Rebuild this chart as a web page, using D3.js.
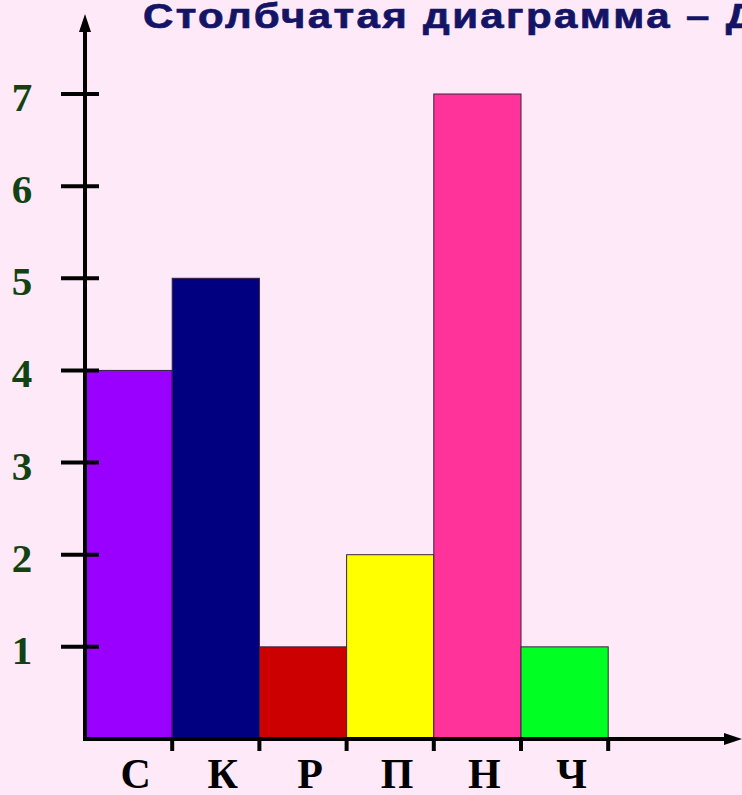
<!DOCTYPE html>
<html>
<head>
<meta charset="utf-8">
<script src="https://cdn.jsdelivr.net/npm/d3@7"></script>
<style>
  html, body { margin: 0; padding: 0; background: #fde9f8; overflow: hidden; }
  svg { display: block; }
</style>
</head>
<body>
<svg id="chart" width="742" height="795"></svg>
<script>
// Letters along the horizontal axis and the height of each bar
const categories = ["С", "К", "Р", "П", "Н", "Ч"];
const values = [4, 5, 1, 2, 7, 1];
const barColors = ["#9900ff", "#000080", "#cc0000", "#ffff00", "#ff3399", "#00ff22"];
const yTicks = [1, 2, 3, 4, 5, 6, 7];
const titleText = "Столбчатая диаграмма – Диаграмма";

const svg = d3.select("#chart");
const W = 742, H = 795;
const x0 = 85, y0 = 739;

svg.append("rect").attr("width", W).attr("height", H).attr("fill", "#fde9f8");

const x = d3.scaleBand().domain(categories).range([x0, x0 + 87.2 * categories.length]).padding(0);
const y = d3.scaleLinear().domain([0, 7]).range([y0, 94]);

// bars
svg.append("g").selectAll("rect")
  .data(categories)
  .join("rect")
  .attr("x", d => x(d))
  .attr("y", (d, i) => y(values[i]))
  .attr("width", x.bandwidth())
  .attr("height", (d, i) => y0 - y(values[i]))
  .attr("fill", (d, i) => barColors[i])
  .attr("stroke", "#3a2040")
  .attr("stroke-width", 1);

// y axis with arrow
const axisColor = "#000";
svg.append("line")
  .attr("x1", x0).attr("y1", y0 + 2).attr("x2", x0).attr("y2", 28)
  .attr("stroke", axisColor).attr("stroke-width", 4);
svg.append("path")
  .attr("d", `M${x0},14 L${x0 - 6},32 L${x0 + 6},32 Z`)
  .attr("fill", axisColor);

svg.append("g").selectAll("line")
  .data(yTicks)
  .join("line")
  .attr("x1", x0 - 24).attr("x2", x0 + 14)
  .attr("y1", d => y(d)).attr("y2", d => y(d))
  .attr("stroke", axisColor).attr("stroke-width", 4);

svg.append("g").selectAll("text")
  .data(yTicks)
  .join("text")
  .attr("x", 22)
  .attr("y", d => y(d) + 17)
  .attr("text-anchor", "middle")
  .attr("font-family", "'Liberation Serif', 'DejaVu Serif', serif")
  .attr("font-weight", "bold")
  .attr("font-size", 41)
  .attr("fill", "#124212")
  .text(d => d);

// x axis with arrow
svg.append("line")
  .attr("x1", x0 - 2).attr("y1", y0).attr("x2", 726).attr("y2", y0)
  .attr("stroke", axisColor).attr("stroke-width", 4);
svg.append("path")
  .attr("d", `M742,${y0} L724,${y0 - 6} L724,${y0 + 6} Z`)
  .attr("fill", axisColor);

svg.append("g").selectAll("line")
  .data(categories)
  .join("line")
  .attr("x1", d => x(d) + x.bandwidth()).attr("x2", d => x(d) + x.bandwidth())
  .attr("y1", y0).attr("y2", y0 + 12)
  .attr("stroke", axisColor).attr("stroke-width", 4);

svg.append("g").selectAll("text")
  .data(categories)
  .join("text")
  .attr("x", d => x(d) + x.bandwidth() / 2 + 7)
  .attr("y", 788)
  .attr("text-anchor", "middle")
  .attr("font-family", "'Liberation Serif', 'DejaVu Serif', serif")
  .attr("font-weight", "bold")
  .attr("font-size", 42)
  .attr("fill", "#000")
  .text(d => d);

// title, set in a widened heavy sans
svg.append("text")
  .attr("transform", "translate(143,28) scale(1.2,1)")
  .attr("font-family", "'Liberation Sans', Arial, sans-serif")
  .attr("font-weight", "bold")
  .attr("font-size", 35)
  .attr("letter-spacing", 2)
  .attr("fill", "#141466")
  .attr("stroke", "#141466")
  .attr("stroke-width", 0.7)
  .text(titleText);
</script>
</body>
</html>
